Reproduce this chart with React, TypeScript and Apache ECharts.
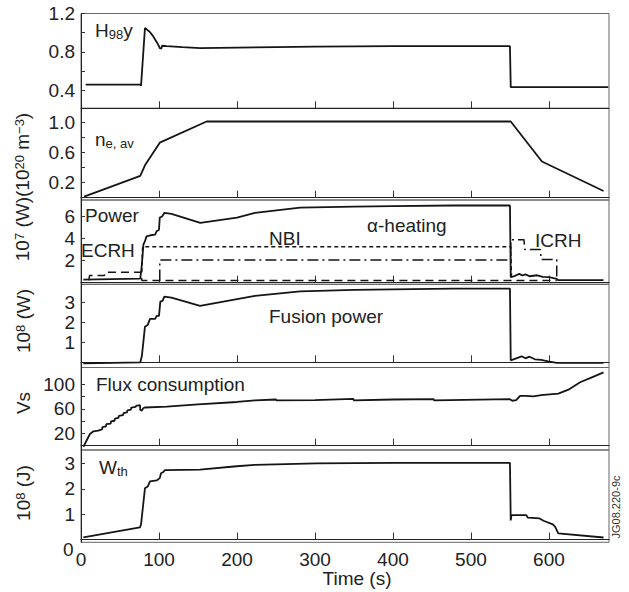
import { useEffect, useRef } from "react";
import * as echarts from "echarts";

const FONT = "'Liberation Sans', Arial, Helvetica, sans-serif";

// Shared time axis
const timeMax = 677;
const timeTicks = [100, 200, 300, 400, 500, 600];
const timeLabels = [0, 100, 200, 300, 400, 500, 600];

// Panel 1: H98y
const h98y: number[][] = [
  [6, 0.46], [76, 0.46], [77, 0.45], [82, 1.05], [85, 1.03], [88, 1.01], [92, 0.97],
  [95, 0.93], [98, 0.89], [100, 0.86], [101, 0.84], [103, 0.835], [104, 0.865],
  [110, 0.86], [130, 0.85], [153, 0.84], [200, 0.845], [250, 0.85], [300, 0.855],
  [400, 0.86], [500, 0.86], [550, 0.86], [551, 0.435], [676, 0.435],
];

// Panel 2: n_e,av (1e20 m^-3)
const neAv: number[][] = [
  [4, 0.015], [76, 0.29], [82, 0.43], [101, 0.73], [161, 1.01], [551, 1.01], [591, 0.48], [670, 0.09],
];

// Panel 3: Power (1e7 W)
const powerTotal: number[][] = [
  [3, 0.27], [76, 0.36], [78, 1.6], [80, 3.45], [82, 3.76], [84, 4.2], [89, 4.3], [95, 4.35],
  [97, 4.67], [100, 4.8], [101, 5.9], [104, 6.0], [107, 6.34], [116, 6.25], [153, 5.43],
  [200, 5.9], [223, 6.34], [281, 6.8], [350, 6.9], [400, 6.95], [477, 7.0], [550, 7.0],
  [551, 0.5], [556, 0.6], [562, 0.8], [566, 0.65], [570, 0.75], [575, 0.58], [585, 0.67],
  [592, 0.52], [600, 0.5], [610, 0.34], [612, 0.22], [670, 0.22],
];
const powerNBI: number[][] = [[78, 0.95], [79, 3.25], [551, 3.25], [552, 0.2]];
const powerECRH: number[][] = [
  [10, 0.2], [11, 0.65], [30, 0.65], [31, 0.95], [77, 0.95], [78, 0.2], [610, 0.2],
];
const powerICRH: number[][] = [
  [101, 0.2], [101, 2.05], [551, 2.05], [551, 3.9], [568, 3.9], [569, 3.0], [589, 3.0],
  [590, 2.1], [610, 2.1], [610, 0.2],
];

// Panel 4: Fusion power (1e8 W)
const fusion: number[][] = [
  [3, -0.05], [76, 0.0], [78, 0.3], [80, 1.03], [82, 1.78], [85.5, 1.87], [88.5, 2.17],
  [95, 2.17], [97, 2.32], [100, 2.32], [101.7, 3.03], [104.6, 3.07], [106.8, 3.28],
  [116, 3.23], [152.6, 2.82], [223, 3.32], [281, 3.55], [350, 3.62], [400, 3.65],
  [477, 3.68], [550, 3.68], [551, 0.1], [558, 0.2], [565, 0.3], [570, 0.2], [575, 0.28],
  [582, 0.15], [590, 0.12], [599, 0.05], [610, -0.03], [670, -0.03],
];

// Panel 5: Flux consumption (Vs)
const flux: number[][] = [
  [3, -2], [7, 8], [11.5, 19], [16, 23.4], [22, 24.5], [27, 26.5], [27.5, 30], [32, 31.5],
  [32.5, 35], [38, 36], [38.5, 39.5], [43, 40.5], [43.5, 44], [48, 45], [48.5, 48.5],
  [54, 49.5], [54.5, 53], [59, 54], [59.5, 57.5], [64, 58.5], [64.5, 62], [70, 63],
  [70.5, 64.5], [75.6, 66], [76, 58], [78, 57], [80, 61], [82, 62], [110, 63.5],
  [150, 67], [200, 71], [223, 73.5], [250, 75], [251, 73.5], [300, 74], [349, 76],
  [350, 73.5], [400, 75], [452, 75.5], [453, 73.5], [550, 75.5], [553, 73], [558, 74],
  [563, 81], [570, 81], [580, 80], [590, 82], [597, 83], [612, 84.5], [625, 91],
  [640, 103], [655, 111], [670, 119],
];

// Panel 6: W_th (1e8 J)
const wth: number[][] = [
  [3, 0.08], [75.6, 0.48], [77, 0.6], [82, 2.02], [85.5, 2.09], [88.5, 2.29], [97, 2.33],
  [101, 2.42], [102.6, 2.61], [105, 2.65], [107.7, 2.74], [152.6, 2.76], [199.6, 2.89],
  [223, 2.94], [302, 3.0], [400, 3.02], [550, 3.02], [551, 0.75], [552, 0.96], [571, 0.96],
  [573, 0.86], [588, 0.83], [593, 0.74], [605, 0.6], [608, 0.5], [612, 0.24], [670, 0.08],
];

// Y-axis ranges, ticks and labels per panel
const yMins = [0.215, -0.03, -0.15, -0.26, -7, -0.11];
const yMaxs = [1.2, 1.185, 7.5, 3.9, 127, 3.53];
const yTickVals = [
  [0.4, 0.6, 0.8, 1.0, 1.2],
  [0.2, 0.4, 0.6, 0.8, 1.0],
  [2, 4, 6],
  [1, 2, 3],
  [20, 40, 60, 80, 100],
  [1, 2, 3],
];
const yLabelVals = [
  [0.4, 0.8, 1.2],
  [0.2, 0.6, 1.0],
  [2, 4, 6],
  [1, 2, 3],
  [20, 60, 100],
  [1, 2, 3],
];
const yDecimals = [1, 1, 0, 0, 0, 0];

const gridTops = [13.5, 108.3, 200, 284.3, 367.5, 450];
const gridHeights = [94.8, 91.7, 84.3, 83.2, 82.5, 92.3];

export default function App() {
  const ref = useRef<HTMLDivElement>(null);
  useEffect(() => {
    if (!ref.current) return;
    const chart = echarts.init(ref.current, null, { renderer: "svg" });
    const ink = "#151515";
    const grids = gridTops.map((t, i) => ({
      left: 81,
      width: 528,
      top: t,
      height: gridHeights[i],
      show: true,
      borderColor: "#666",
      borderWidth: 1,
    }));
    const xAxes = gridTops.map((_, i) => ({
      gridIndex: i,
      type: "value",
      min: 0,
      max: timeMax,
      axisLine: { show: true, lineStyle: { color: "#222", width: 1 } },
      axisTick: { show: true, inside: true, length: 7, customValues: timeTicks, lineStyle: { color: "#333" } },
      axisLabel: {
        show: i === 5,
        customValues: timeLabels,
        fontSize: 19,
        fontFamily: FONT,
        color: "#222",
        margin: 8,
      },
      splitLine: { show: false },
    }));
    const yAxes = gridTops.map((_, i) => ({
      gridIndex: i,
      type: "value",
      min: yMins[i],
      max: yMaxs[i],
      axisLine: { show: true, lineStyle: { color: "#222", width: 1 } },
      axisTick: { show: true, inside: true, length: 4, customValues: yTickVals[i], lineStyle: { color: "#333" } },
      axisLabel: {
        show: true,
        customValues: yLabelVals[i],
        formatter: (v: number) => v.toFixed(yDecimals[i]),
        fontSize: 19,
        fontFamily: FONT,
        color: "#222",
        margin: 6,
      },
      splitLine: { show: false },
    }));
    const mk = (data: number[][], idx: number, type: any = "solid", width = 1.8) => ({
      type: "line",
      xAxisIndex: idx,
      yAxisIndex: idx,
      data,
      showSymbol: false,
      symbol: "none",
      silent: true,
      lineStyle: { color: ink, width, type },
    });
    const txt = (text: string, x: number, y: number, size = 19, extra: any = {}) => ({
      type: "text",
      x,
      y,
      silent: true,
      style: {
        text,
        fill: "#222",
        fontSize: size,
        fontFamily: FONT,
        align: "left",
        verticalAlign: "middle",
        textAlign: "left",
        textVerticalAlign: "middle",
        ...extra,
      },
    });
    const base = { fontSize: 19, fontFamily: FONT, fill: "#222", lineHeight: 20, verticalAlign: "top" };
    const sub = { fontSize: 13, fontFamily: FONT, fill: "#222", lineHeight: 8, verticalAlign: "bottom" };
    const sup = { fontSize: 13, fontFamily: FONT, fill: "#222", lineHeight: 8, verticalAlign: "top" };
    const rich = { m: base, s: sub, p: sup };
    const rotTxt = (text: string, x: number, y: number) => ({
      type: "text",
      x,
      y,
      rotation: Math.PI / 2,
      silent: true,
      style: {
        text,
        rich,
        fill: "#222",
        fontSize: 19,
        fontFamily: FONT,
        align: "center",
        verticalAlign: "middle",
        textAlign: "center",
        textVerticalAlign: "middle",
      },
    });

    chart.setOption({
      animation: false,
      grid: grids,
      xAxis: xAxes,
      yAxis: yAxes,
      series: [
        mk(h98y, 0),
        mk(neAv, 1),
        mk(powerECRH, 2, [8, 5], 1.5),
        mk(powerNBI, 2, [4, 3], 1.5),
        mk(powerICRH, 2, [11, 4, 2, 4], 1.5),
        mk(powerTotal, 2),
        mk(fusion, 3),
        mk(flux, 4),
        mk(wth, 5),
      ],
      graphic: [
        txt("{m|H}{s|98}{m|y}", 95, 31, 19, { rich }),
        txt("{m|n}{s|e, av}", 95, 140, 19, { rich }),
        txt("Power", 85, 215),
        txt("ECRH", 81, 250),
        txt("NBI", 269, 238),
        txt("α-heating", 367, 225),
        txt("ICRH", 535, 240),
        txt("Fusion power", 269, 316),
        txt("Flux consumption", 96, 384),
        txt("{m|W}{s|th}", 99, 468, 19, { rich }),
        txt("0", 63, 549),
        txt("Time (s)", 357, 578, 19, { align: "center", textAlign: "center" }),
        rotTxt("{m|10}{p|7}{m| (W)(10}{p|20}{m| m}{p|−3}{m|)}", 23, 187),
        rotTxt("{m|10}{p|8}{m| (W)}", 24, 321),
        rotTxt("{m|Vs}", 24, 403),
        rotTxt("{m|10}{p|8}{m| (J)}", 24, 493),
        {
          type: "text",
          x: 616,
          y: 507,
          rotation: Math.PI / 2,
          silent: true,
          style: {
            text: "JG08.220-9c",
            fill: "#333",
            fontSize: 11,
            fontFamily: FONT,
            align: "center",
            verticalAlign: "middle",
            textAlign: "center",
            textVerticalAlign: "middle",
          },
        },
      ],
    });
    return () => chart.dispose();
  }, []);
  return (
    <div
      ref={ref}
      style={{ position: "fixed", left: 0, top: 0, width: 629, height: 592, background: "#fff" }}
    />
  );
}
